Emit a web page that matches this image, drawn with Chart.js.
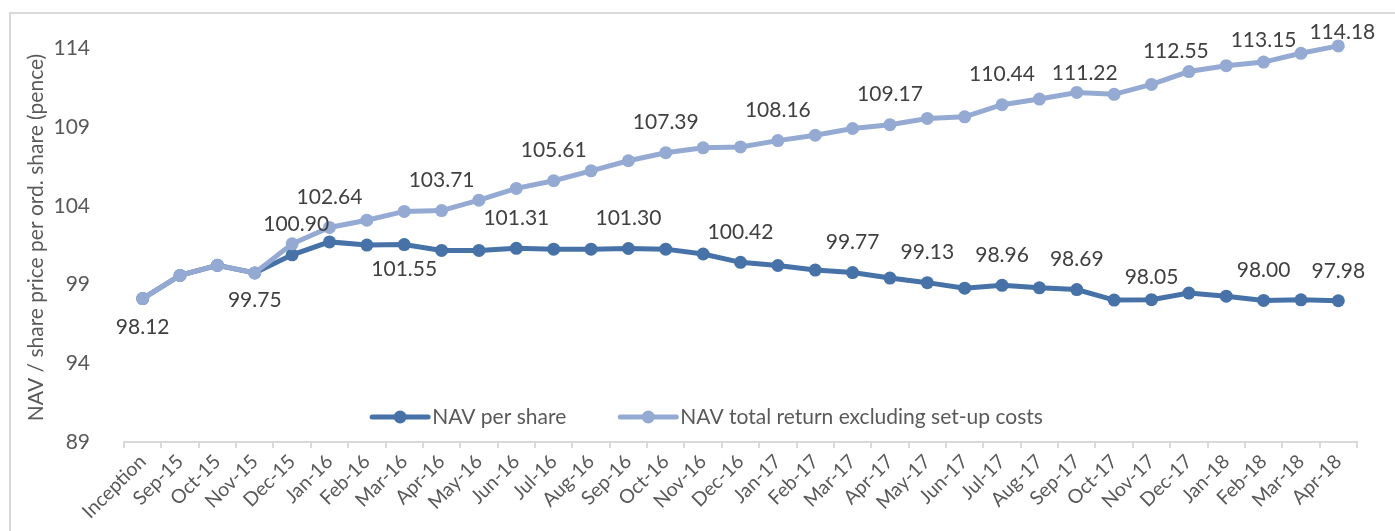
<!DOCTYPE html>
<html>
<head>
<meta charset="utf-8">
<script src="https://cdn.jsdelivr.net/npm/chart.js@4.4.0/dist/chart.umd.min.js"></script>
<style>
  html, body { margin: 0; padding: 0; background: #fff; overflow: hidden; }
  #frame { position: absolute; left: 9px; top: 12px; width: 1500px; height: 700px; border: 2px solid #d9d9d9; }
  #wrap { position: absolute; left: 0; top: 0; width: 1395px; height: 531px; }
</style>
</head>
<body>
<div id="frame"></div>
<div id="wrap"><canvas id="c"></canvas></div>
<script>
// months on the x axis
const months = ["Inception", "Sep-15", "Oct-15", "Nov-15", "Dec-15",
  "Jan-16", "Feb-16", "Mar-16", "Apr-16", "May-16", "Jun-16", "Jul-16", "Aug-16", "Sep-16", "Oct-16", "Nov-16", "Dec-16",
  "Jan-17", "Feb-17", "Mar-17", "Apr-17", "May-17", "Jun-17", "Jul-17", "Aug-17", "Sep-17", "Oct-17", "Nov-17", "Dec-17",
  "Jan-18", "Feb-18", "Mar-18", "Apr-18"];

const navPerShare = [98.12, 99.59, 100.23, 99.75, 100.90,
  101.72, 101.52, 101.55, 101.18, 101.18, 101.31, 101.26, 101.26, 101.30, 101.26, 100.95, 100.42,
  100.22, 99.93, 99.77, 99.42, 99.13, 98.78, 98.96, 98.80, 98.69, 98.02, 98.05, 98.47,
  98.27, 98.00, 98.04, 97.98];

const navTotalReturn = [98.12, 99.59, 100.23, 99.75, 101.60,
  102.64, 103.10, 103.66, 103.71, 104.37, 105.12, 105.61, 106.24, 106.88, 107.39, 107.70, 107.76,
  108.16, 108.50, 108.93, 109.17, 109.57, 109.67, 110.44, 110.80, 111.22, 111.10, 111.73, 112.55,
  112.92, 113.15, 113.71, 114.18];

// which points carry a value label
const navLabelIdx = [0, 3, 4, 7, 10, 13, 16, 19, 21, 23, 25, 27, 30, 32];
const trLabelIdx = [5, 8, 11, 14, 17, 20, 23, 25, 28, 30, 32];

const yTicks = [89, 94, 99, 104, 109, 114];
const yTitle = "NAV / share price per ord. share (pence)";

const darkBlue = "#4672a8";
const lightBlue = "#95aad3";

// label offsets from the point (default: above)
const labelShift = [
  { 0: [0, 29], 3: [0, 27], 7: [0, 25], 4: [4, -31], 27: [0, -22] },
  { 25: [8, -19], 28: [-13, -20], 30: [0, -22], 32: [4, -14] }
];
const labelIdx = [navLabelIdx, trLabelIdx];

const valueLabels = {
  id: "valueLabels",
  afterDatasetsDraw(chart) {
    const ctx = chart.ctx;
    ctx.save();
    ctx.font = "21px Lato";
    ctx.fillStyle = "#404040";
    ctx.textAlign = "center";
    ctx.textBaseline = "middle";
    chart.data.datasets.forEach((ds, i) => {
      const meta = chart.getDatasetMeta(i);
      labelIdx[i].forEach(j => {
        const pt = meta.data[j];
        const [dx, dy] = labelShift[i][j] || [0, -30];
        ctx.fillText(ds.data[j].toFixed(2), pt.x + dx, pt.y + dy);
      });
    });
    ctx.restore();
  }
};

// legend sits inside the plot, near the bottom
const innerLegend = {
  id: "innerLegend",
  afterDraw(chart) {
    const ctx = chart.ctx;
    ctx.save();
    ctx.font = "21px Lato";
    const y = 417, lineW = 56, gap = 4, itemGap = 54;
    const items = chart.data.datasets.map(ds => ({
      text: ds.label, color: ds.borderColor, w: ctx.measureText(ds.label).width
    }));
    const total = items.reduce((s, it) => s + lineW + gap + it.w, 0) + itemGap * (items.length - 1);
    let x = chart.width / 2 + 10 - total / 2;
    items.forEach(it => {
      ctx.strokeStyle = it.color;
      ctx.lineWidth = 5;
      ctx.lineCap = "round";
      ctx.beginPath();
      ctx.moveTo(x, y);
      ctx.lineTo(x + lineW, y);
      ctx.stroke();
      ctx.fillStyle = it.color;
      ctx.beginPath();
      ctx.arc(x + lineW / 2, y, 6.5, 0, Math.PI * 2);
      ctx.fill();
      ctx.fillStyle = "#595959";
      ctx.textAlign = "left";
      ctx.textBaseline = "middle";
      ctx.fillText(it.text, x + lineW + gap, y);
      x += lineW + gap + it.w + itemGap;
    });
    ctx.restore();
  }
};

Chart.defaults.font.family = "Lato";

new Chart(document.getElementById("c"), {
  type: "line",
  data: {
    labels: months,
    datasets: [
      {
        label: "NAV per share",
        data: navPerShare,
        borderColor: darkBlue,
        backgroundColor: darkBlue,
        pointBackgroundColor: darkBlue,
        borderWidth: 5,
        pointRadius: 6.5,
        pointBorderWidth: 0,
        order: 1
      },
      {
        label: "NAV total return excluding set-up costs",
        data: navTotalReturn,
        borderColor: lightBlue,
        backgroundColor: lightBlue,
        pointBackgroundColor: lightBlue,
        borderWidth: 5,
        pointRadius: 6.5,
        pointBorderWidth: 0,
        order: 0
      }
    ]
  },
  options: {
    responsive: true,
    maintainAspectRatio: false,
    animation: false,
    layout: { padding: { left: 10, top: 33, right: 38, bottom: 0 } },
    plugins: {
      legend: { display: false },
      tooltip: { enabled: false }
    },
    scales: {
      x: {
        offset: true,
        grid: { offset: true, drawOnChartArea: false, drawTicks: true, tickLength: 6, color: "#d9d9d9", lineWidth: 2 },
        border: { color: "#d9d9d9", width: 2 },
        ticks: { autoSkip: false, minRotation: 45, maxRotation: 45, color: "#595959", font: { size: 19.5 }, padding: 2 },
        afterFit: s => { s.height = 89; }
      },
      y: {
        min: 89,
        max: 115,
        afterBuildTicks: s => { s.ticks = yTicks.map(v => ({ value: v })); },
        afterFit: s => { s.width = 114; s.paddingTop = 0; s.paddingBottom = 0; },
        grid: { display: false },
        border: { display: false },
        ticks: { padding: 26, color: "#595959", font: { size: 21 } },
        title: { display: true, text: yTitle, color: "#595959", font: { size: 21 }, padding: { top: 14, bottom: 0 } }
      }
    }
  },
  plugins: [valueLabels, innerLegend]
});
</script>
</body>
</html>
